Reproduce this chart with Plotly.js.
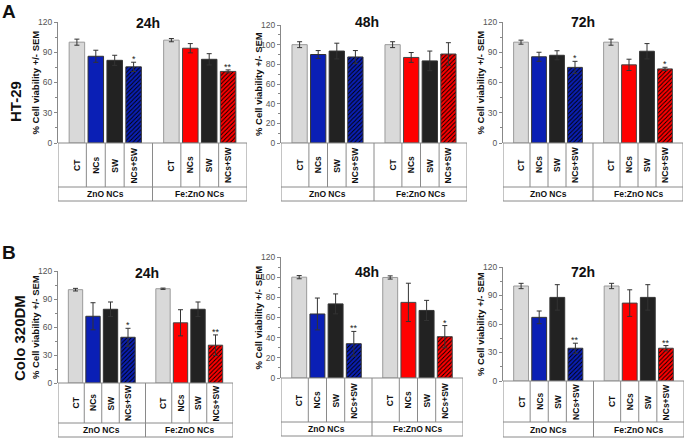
<!DOCTYPE html>
<html>
<head>
<meta charset="utf-8">
<script src="https://cdn.plot.ly/plotly-3.0.1.min.js"></script>
<style>html,body{margin:0;padding:0;background:#fff;}#chart{width:685px;height:438px;}</style>
</head>
<body>
<div id="chart"></div>
<script>
// ---------- DATA ----------
const categories = ['CT', 'NCs', 'SW', 'NCs+SW'];
const groups = ['ZnO NCs', 'Fe:ZnO NCs'];
const timepoints = ['24h', '48h', '72h'];
const cellLines = ['HT-29', 'Colo 320DM'];
const panelLetters = ['A', 'B'];
const yTitle = '% Cell viability +/- SEM';

const ht29_24h     = [100, 86, 82, 75.5, 102, 94, 83, 71];
const ht29_24h_sem = [3, 6, 5, 4.6, 1.6, 4.6, 5.6, 1.5];
const ht29_24h_sig = ['', '', '', '*', '', '', '', '**'];

const ht29_48h     = [100, 90, 93.5, 87.5, 100, 87, 83.5, 90.5];
const ht29_48h_sem = [3, 4, 8, 6.5, 3, 5, 10, 11.5];
const ht29_48h_sig = ['', '', '', '', '', '', '', ''];

const ht29_72h     = [100, 85.5, 87, 75, 100, 77.5, 91, 73.5];
const ht29_72h_sem = [2, 4.5, 4.5, 6, 3, 5.6, 7.6, 1.6];
const ht29_72h_sig = ['', '', '', '*', '', '', '', '*'];

const colo_24h     = [100, 71.5, 79, 49, 101, 64.5, 79, 40.5];
const colo_24h_sem = [1.4, 14.5, 7.8, 9.6, 0.7, 14, 7.8, 11];
const colo_24h_sig = ['', '', '', '*', '', '', '', '**'];

const colo_48h     = [100, 63.5, 73.5, 34, 99.7, 75, 67, 41];
const colo_48h_sem = [1.6, 15.8, 9.9, 12.2, 1.6, 19, 10, 11];
const colo_48h_sig = ['', '', '', '**', '', '', '', '*'];

const colo_72h     = [100, 67, 88, 34.5, 100, 82, 88, 34.5];
const colo_72h_sem = [2.8, 6.7, 13.4, 5.3, 2.8, 14, 13.4, 2.8];
const colo_72h_sig = ['', '', '', '**', '', '', '', '**'];

const yTickStep = [30, 20, 30, 30, 20, 30];

// ---------- LAYOUT GEOMETRY (pixels) ----------
const W = 685, H = 438;
const FONT = 'Liberation Sans, Arial, sans-serif';
const panels = [
  {v: ht29_24h, e: ht29_24h_sem, s: ht29_24h_sig, t: timepoints[0], ax: 58,  right: 247, yTop: 22,  y0: 143, cat: 187, grp: 201, tx: 148, ty: 23},
  {v: ht29_48h, e: ht29_48h_sem, s: ht29_48h_sig, t: timepoints[1], ax: 281, right: 467, yTop: 25,  y0: 143, cat: 187, grp: 201, tx: 367, ty: 22},
  {v: ht29_72h, e: ht29_72h_sem, s: ht29_72h_sig, t: timepoints[2], ax: 503, right: 683, yTop: 22,  y0: 143, cat: 187, grp: 201, tx: 583, ty: 22},
  {v: colo_24h, e: colo_24h_sem, s: colo_24h_sig, t: timepoints[0], ax: 58,  right: 233, yTop: 271, y0: 383, cat: 423, grp: 437, tx: 147, ty: 273},
  {v: colo_48h, e: colo_48h_sem, s: colo_48h_sig, t: timepoints[1], ax: 281, right: 463, yTop: 257, y0: 378, cat: 422, grp: 436, tx: 367, ty: 272},
  {v: colo_72h, e: colo_72h_sem, s: colo_72h_sig, t: timepoints[2], ax: 503, right: 684, yTop: 267, y0: 381, cat: 422, grp: 437, tx: 583, ty: 272}
];

const px = p => p / W;
const py = p => 1 - p / H;

const BLUE = '#0a1fb5', RED = '#ff0000', GRAY = '#d9d9d9', BLACK = '#222222';
const barColors = [GRAY, BLUE, BLACK, BLUE, GRAY, RED, BLACK, RED];
const lineColors = ['#9a9a9a', '#333', '#333', '#333', '#9a9a9a', '#444', '#333', '#444'];
const patternShapes = ['', '', '', '/', '', '', '', '/'];
const TABLE = '#8a8a8a';

// x positions: group index * 5 + category index
const xPos = [];
groups.forEach((g, gi) => categories.forEach((c, ci) => xPos.push(gi * 5 + ci)));
const xLabels = [];
groups.forEach(() => categories.forEach(c => xLabels.push(c)));

const traces = [];
const layout = {
  width: W, height: H,
  margin: {l: 0, r: 0, t: 0, b: 0},
  paper_bgcolor: '#fff', plot_bgcolor: 'rgba(0,0,0,0)',
  showlegend: false,
  font: {family: FONT, color: '#222'},
  barmode: 'overlay',
  shapes: [], annotations: []
};

panels.forEach((p, i) => {
  const n = i + 1;
  const xa = n === 1 ? 'x' : 'x' + n;
  const ya = n === 1 ? 'y' : 'y' + n;
  const xk = n === 1 ? 'xaxis' : 'xaxis' + n;
  const yk = n === 1 ? 'yaxis' : 'yaxis' + n;

  // one trace per bar so that each has a scalar colour (needed for hatch pattern)
  xPos.forEach((x, k) => {
    const marker = {color: barColors[k], line: {color: lineColors[k], width: 1}};
    if (patternShapes[k]) {
      marker.pattern = {shape: patternShapes[k], fillmode: 'overlay', fgcolor: '#000', fgopacity: 1, size: 3, solidity: 0.3};
    }
    traces.push({
      type: 'bar', x: [x], y: [p.v[k]], xaxis: xa, yaxis: ya, width: 0.82,
      marker: marker,
      error_y: {type: 'data', array: [p.e[k]], visible: true, color: '#333', thickness: 1, width: 2.5},
      hoverinfo: 'none'
    });
  });

  layout[xk] = {
    domain: [px(p.ax), px(p.right)], anchor: ya, range: [-1, 9],
    showticklabels: false, ticks: '', showgrid: false, zeroline: false, showline: false, fixedrange: true
  };
  const dt = yTickStep[i];
  layout[yk] = {
    domain: [py(p.y0), py(p.yTop)], anchor: xa, range: [0, 120],
    tick0: 0, dtick: dt, ticks: 'outside', ticklen: 3, tickcolor: '#888', tickwidth: 1,
    minor: {ticks: 'outside', ticklen: 2, dtick: dt / 2, tickcolor: '#888'},
    showline: true, linecolor: '#888', linewidth: 1,
    showgrid: false, zeroline: false,
    tickfont: {size: 8.5, color: '#555', family: FONT},
    fixedrange: true
  };

  // y-axis title
  layout.annotations.push({
    xref: 'paper', yref: 'paper', x: px(p.ax - 23), y: py((p.yTop + p.y0) / 2),
    text: '<b>' + yTitle + '</b>', textangle: -90, showarrow: false,
    font: {size: 9.5, color: '#111', family: FONT}, xanchor: 'center', yanchor: 'middle'
  });

  // table grid
  const Y0 = py(p.y0), YC = py(p.cat), YG = py(p.grp);
  const L = (x0, y0, x1, y1) => layout.shapes.push({type: 'line', xref: xa, yref: 'paper', x0, y0, x1, y1, line: {color: TABLE, width: 1}});
  L(-1, Y0, 9, Y0);
  L(-1, YC, 9, YC);
  L(-1, YG, 9, YG);
  L(-1, Y0, -1, YG);
  L(9, Y0, 9, YG);
  L(4, Y0, 4, YG);
  [0.5, 1.5, 2.5, 5.5, 6.5, 7.5].forEach(x => L(x, Y0, x, YC));

  // category labels + significance marks
  xPos.forEach((x, k) => {
    layout.annotations.push({
      xref: xa, yref: 'paper', x: x, y: (Y0 + YC) / 2, text: '<b>' + xLabels[k] + '</b>',
      textangle: -90, showarrow: false, font: {size: 8.5, color: '#111', family: FONT},
      xanchor: 'center', yanchor: 'middle'
    });
    if (p.s[k]) {
      layout.annotations.push({
        xref: xa, yref: ya, x: x, y: p.v[k] + p.e[k], text: p.s[k], showarrow: false,
        font: {size: 9, color: '#222', family: FONT}, xanchor: 'center', yanchor: 'bottom', yshift: -4
      });
    }
  });
  // group labels
  groups.forEach((g, gi) => {
    layout.annotations.push({
      xref: xa, yref: 'paper', x: gi * 5 + 1.5, y: (YC + YG) / 2, text: '<b>' + g + '</b>',
      showarrow: false, font: {size: 8.5, color: '#111', family: FONT}, xanchor: 'center', yanchor: 'middle'
    });
  });
  // panel title
  layout.annotations.push({
    xref: 'paper', yref: 'paper', x: px(p.tx), y: py(p.ty), text: '<b>' + p.t + '</b>',
    showarrow: false, font: {size: 14, color: '#111', family: FONT}, xanchor: 'center', yanchor: 'middle'
  });
});

// panel letters and cell line labels
const letterPos = [[9, 11], [9, 252]];
const cellPos = [[15, 102], [19, 338]];
panelLetters.forEach((L, i) => {
  layout.annotations.push({
    xref: 'paper', yref: 'paper', x: px(letterPos[i][0]), y: py(letterPos[i][1]), text: '<b>' + L + '</b>',
    showarrow: false, font: {size: 19, color: '#111', family: FONT}, xanchor: 'center', yanchor: 'middle'
  });
  layout.annotations.push({
    xref: 'paper', yref: 'paper', x: px(cellPos[i][0]), y: py(cellPos[i][1]), text: '<b>' + cellLines[i] + '</b>',
    textangle: -90, showarrow: false, font: {size: 15, color: '#111', family: FONT}, xanchor: 'center', yanchor: 'middle'
  });
});

Plotly.newPlot('chart', traces, layout, {displayModeBar: false, staticPlot: true});
</script>
</body>
</html>
